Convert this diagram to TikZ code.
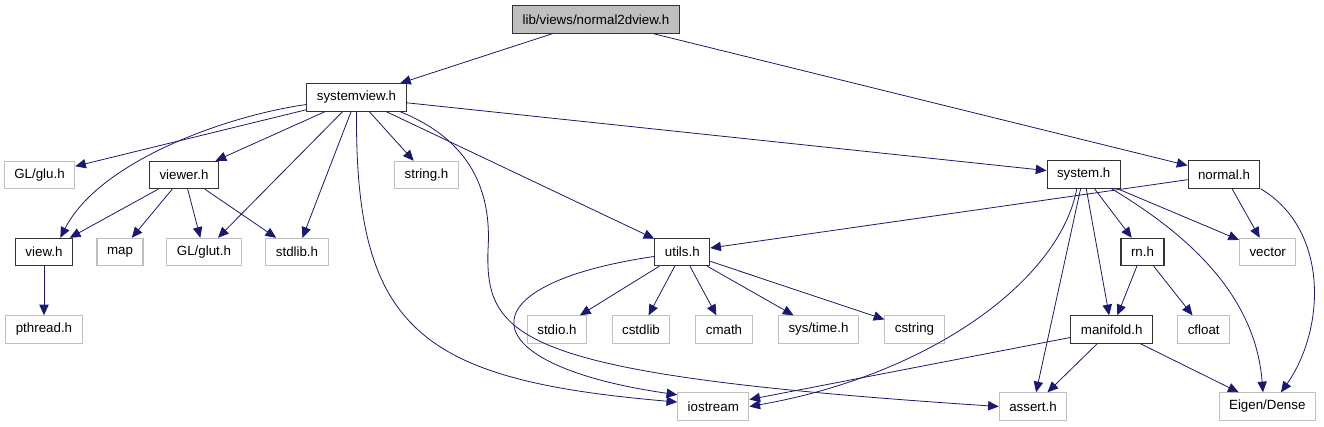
\documentclass[tikz,border=0pt]{standalone}
\usepackage{fontspec}
\setmainfont{Liberation Sans}
\usetikzlibrary{arrows.meta}
\definecolor{edgeblue}{HTML}{191970}
\definecolor{boxgray}{HTML}{BFBFBF}
\begin{document}
\begin{tikzpicture}[x=0.75pt,y=-0.75pt,
    file/.style={draw=black!80, rectangle, minimum height=20.5pt,
        inner xsep=7.5pt, inner ysep=0pt, line width=0.8pt,
        font=\fontsize{10}{12}\selectfont},
    ext/.style={file, draw=boxgray},
    dep/.style={draw=edgeblue, line width=0.6pt,
        -{Triangle[length=8pt,width=7pt]}}]

    \useasboundingbox (0,0) rectangle (1324,427);

    % top file
    \node[file, fill=boxgray] (root) at (596,19.5) {lib/views/normal2dview.h};

    % first level
    \node[file] (systemview) at (356.5,97.5) {systemview.h};
    \node[file] (system) at (1083.7,174.5) {system.h};
    \node[file] (normal) at (1224,174.5) {normal.h};

    % second row
    \node[ext] (glu) at (39.5,175) {GL/glu.h};
    \node[file] (viewer) at (184,175) {viewer.h};
    \node[ext] (string) at (426.5,175) {string.h};

    % third row
    \node[file] (view) at (44,252) {view.h};
    \node[ext] (map) at (120,252) {map};
    \node[ext] (glut) at (204,252) {GL/glut.h};
    \node[ext] (stdlib) at (297,252) {stdlib.h};
    \node[file] (utils) at (682.3,252) {utils.h};
    \node[file] (rn) at (1142.5,252) {rn.h};
    \node[ext] (vector) at (1267.7,252) {vector};

    % fourth row
    \node[ext] (pthread) at (44,329.5) {pthread.h};
    \node[ext] (stdio) at (557,329.5) {stdio.h};
    \node[ext] (cstdlib) at (641,329.5) {cstdlib};
    \node[ext] (cmath) at (724,329.5) {cmath};
    \node[ext] (systime) at (818.5,329.5) {sys/time.h};
    \node[ext] (cstring) at (914.5,329.5) {cstring};
    \node[file] (manifold) at (1111.7,329.5) {manifold.h};
    \node[ext] (cfloat) at (1203.7,329.5) {cfloat};

    % bottom row
    \node[ext] (iostream) at (713.3,406.5) {iostream};
    \node[ext] (assert) at (1033,406.5) {assert.h};
    \node[ext] (eigen) at (1267.3,406.5) {Eigen/Dense};

    % includes of the top file
    \draw[dep] (root) -- (systemview);
    \draw[dep] (root) -- (normal);

    % systemview.h
    \draw[dep] (systemview) -- (glu);
    \draw[dep] (systemview) -- (viewer);
    \draw[dep] (systemview) -- (string);
    \draw[dep] (systemview) -- (glut);
    \draw[dep] (systemview) -- (stdlib);
    \draw[dep] (systemview) -- (utils);
    \draw[dep] (systemview) -- (system);
    \draw[dep] (systemview.188) .. controls (230,115) and (100,160) .. (view.41);
    \draw[dep] (systemview.south) .. controls (355,330) and (420,380) .. (iostream.173);
    \draw[dep] (systemview.342) .. controls (470,140) and (492,190) .. (488,250)
        .. controls (485,340) and (520,375) .. (assert.west);

    % viewer.h and view.h
    \draw[dep] (viewer) -- (view);
    \draw[dep] (viewer) -- (map);
    \draw[dep] (viewer) -- (glut);
    \draw[dep] (viewer) -- (stdlib);
    \draw[dep] (view) -- (pthread);

    % utils.h
    \draw[dep] (utils) -- (stdio);
    \draw[dep] (utils) -- (cstdlib);
    \draw[dep] (utils) -- (cmath);
    \draw[dep] (utils) -- (systime);
    \draw[dep] (utils) -- (cstring);
    \draw[dep] (utils.189) .. controls (460,285) and (470,365) .. (iostream.162);

    % system.h
    \draw[dep] (system) -- (assert);
    \draw[dep] (system) -- (manifold);
    \draw[dep] (system) -- (rn);
    \draw[dep] (system) -- (vector);
    \draw[dep] (system.244) .. controls (1060,280) and (930,375) .. (iostream.east);
    \draw[dep] (system.333) .. controls (1180,230) and (1255,290) .. (eigen.107);

    % normal.h
    \draw[dep] (normal) -- (utils);
    \draw[dep] (normal) -- (vector);
    \draw[dep] (normal.south east) .. controls (1330,230) and (1325,330) .. (eigen.46);

    % rn.h and manifold.h
    \draw[dep] (rn) -- (manifold);
    \draw[dep] (rn) -- (cfloat);
    \draw[dep] (manifold) -- (iostream);
    \draw[dep] (manifold) -- (assert);
    \draw[dep] (manifold) -- (eigen);
\end{tikzpicture}
\end{document}
